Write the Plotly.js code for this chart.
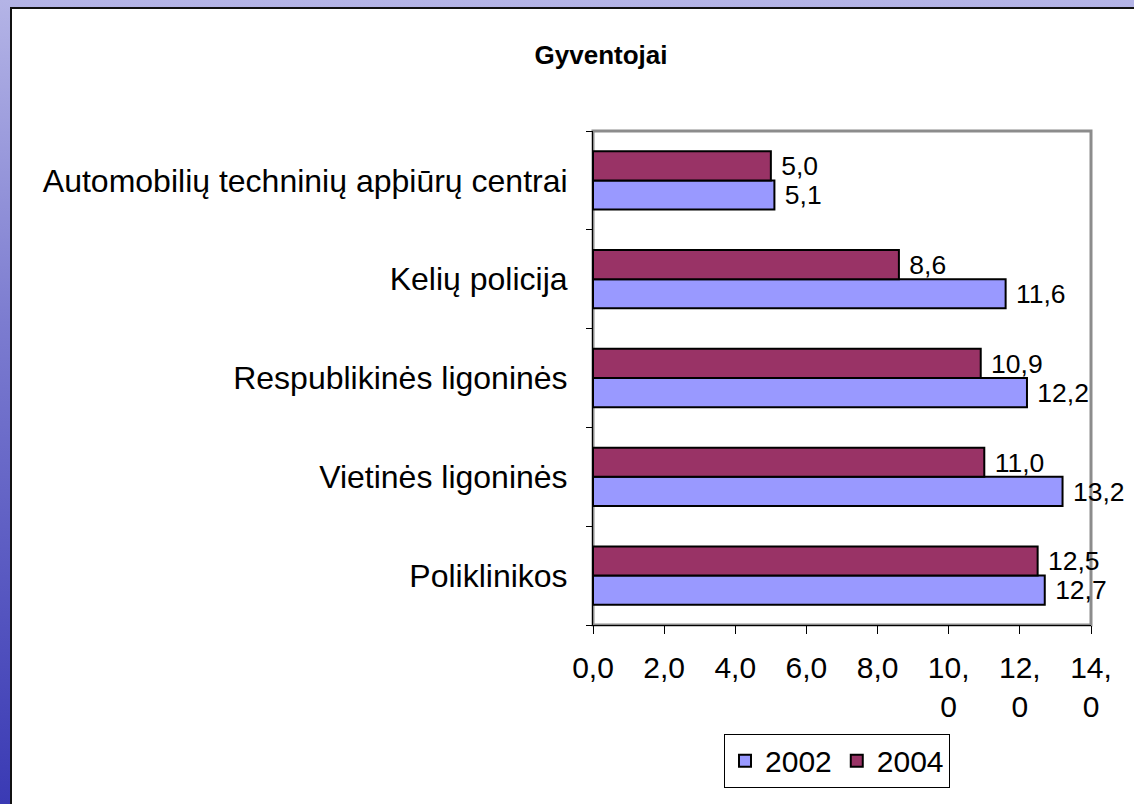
<!DOCTYPE html>
<html>
<head>
<meta charset="utf-8">
<script src="https://cdn.plot.ly/plotly-3.0.1.min.js"></script>
<style>
  body { margin: 0; }
  #frame { position: absolute; left: 0; top: 0; width: 1134px; height: 804px;
    background: linear-gradient(to bottom, #b4b4e6 0%, #7c7cd0 40%, #3a3ab4 100%); }
  #panel { position: absolute; left: 10px; top: 7px; width: 1124px; height: 797px;
    background: #ffffff; border-left: 2px solid #111; border-top: 2px solid #111; }
  #plot { position: absolute; left: 0; top: 0; width: 1134px; height: 804px; }
</style>
</head>
<body>
<div id="frame"></div>
<div id="panel"></div>
<div id="plot"></div>
<script>
// categories, bottom to top
let categories = ['Poliklinikos', 'Vietinės ligoninės', 'Respublikinės ligoninės',
  'Kelių policija', 'Automobilių techninių apþiūrų centrai'];
let values2002 = [12.7, 13.2, 12.2, 11.6, 5.1];
let values2004 = [12.5, 11.0, 10.9, 8.6, 5.0];
let tickVals = [0, 2, 4, 6, 8, 10, 12, 14];
let tickText = ['0,0', '2,0', '4,0', '6,0', '8,0', '10,<br>0', '12,<br>0', '14,<br>0'];

let font = 'Arial, "Liberation Sans", sans-serif';

let trace1 = {
  y: categories,
  x: values2002,
  name: '2002',
  type: 'bar',
  orientation: 'h',
  marker: { color: '#9999ff', line: { color: '#000000', width: 2 } },
  texttemplate: ' %{x:.1f}',
  textposition: 'outside',
  cliponaxis: false,
  textfont: { size: 30, color: '#000000' }
};

let trace2 = {
  y: categories,
  x: values2004,
  name: '2004',
  type: 'bar',
  orientation: 'h',
  marker: { color: '#993366', line: { color: '#000000', width: 2 } },
  texttemplate: ' %{x:.1f}',
  textposition: 'outside',
  cliponaxis: false,
  textfont: { size: 30, color: '#000000' }
};

let data = [trace1, trace2];

let layout = {
  width: 1134,
  height: 804,
  paper_bgcolor: 'rgba(0,0,0,0)',
  plot_bgcolor: '#ffffff',
  font: { family: font, size: 30, color: '#000000' },
  separators: ', ',
  title: { text: '<b>Gyventojai</b>', x: 0.53, y: 0.932, xanchor: 'center', yanchor: 'middle',
    font: { size: 26, family: font } },
  margin: { l: 593, r: 43, t: 131, b: 179 },
  barmode: 'group',
  bargap: 0.41,
  bargroupgap: 0,
  xaxis: {
    range: [0, 14],
    tickvals: tickVals,
    ticktext: tickText,
    ticks: 'outside',
    ticklen: 8,
    tickcolor: '#000000',
    showline: true,
    linecolor: '#000000',
    linewidth: 1,
    showgrid: false,
    zeroline: false,
    ticklabelstandoff: 8,
    tickfont: { size: 30 },
    fixedrange: true
  },
  yaxis: {
    type: 'category',
    categoryorder: 'array',
    categoryarray: categories,
    ticks: 'outside',
    tickson: 'boundaries',
    ticklen: 6,
    tickcolor: '#000000',
    showline: true,
    linecolor: '#000000',
    linewidth: 1,
    showgrid: false,
    ticklabelstandoff: 18,
    tickfont: { size: 32 },
    fixedrange: true
  },
  shapes: [{
    type: 'rect', xref: 'paper', yref: 'paper', x0: 0, x1: 1, y0: 0, y1: 1,
    line: { color: '#8c8c8c', width: 3 }, layer: 'below'
  }],
  showlegend: true,
  legend: {
    orientation: 'h',
    x: 0.49, xanchor: 'center',
    y: -0.22, yanchor: 'top',
    bgcolor: '#ffffff',
    bordercolor: '#000000',
    borderwidth: 1,
    font: { size: 30 },
    traceorder: 'normal'
  }
};

Plotly.newPlot('plot', data, layout, { displayModeBar: false, staticPlot: true });
</script>
</body>
</html>
